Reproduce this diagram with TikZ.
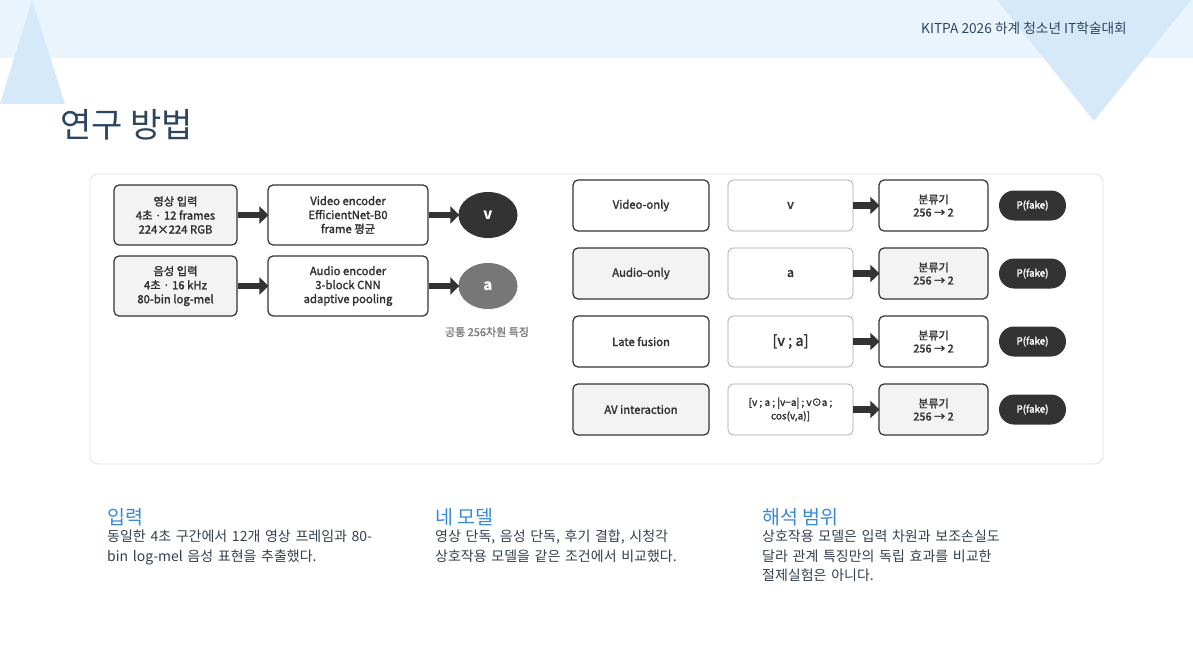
\documentclass[tikz,border=0pt]{standalone}
\usepackage{fontspec}
\setmainfont{Noto Sans CJK KR}
\setsansfont{Noto Sans CJK KR}
\newfontfamily\semibf[FakeBold=2]{Noto Sans CJK KR}
\usetikzlibrary{arrows.meta,shapes.geometric}
\definecolor{bandblue}{HTML}{EAF4FD}
\definecolor{triblue}{HTML}{D6E9F8}
\definecolor{titlecol}{HTML}{2E4560}
\definecolor{headblue}{HTML}{3B8AD9}
\definecolor{bodycol}{HTML}{34404E}
\definecolor{dk}{HTML}{333333}
\definecolor{lightfill}{HTML}{F3F3F3}
\definecolor{panelborder}{HTML}{E2E2E2}
\definecolor{midgray}{HTML}{777777}
\tikzset{
  box/.style={draw=dk, line width=1.2pt, rounded corners=5pt, align=center,
    font=\semibf\fontsize{11.3}{14}\selectfont, text=dk, inner sep=2pt},
  graybox/.style={box, fill=lightfill},
  whitebox/.style={box, fill=white},
  featbox/.style={draw=gray!70, line width=0.7pt, rounded corners=5pt, fill=white,
    align=center, font=\semibf\fontsize{12.5}{14}\selectfont, text=dk, inner sep=2pt},
  bigfeat/.style={font=\semibf\fontsize{14.5}{16}\selectfont},
  smallfeat/.style={font=\semibf\fontsize{10}{13.5}\selectfont},
  normfeat/.style={},
  blockarrow/.style={draw=dk, line width=6.5pt, -{Triangle[length=9pt,width=17pt]}, shorten >=-1pt},
  pill/.style={fill=dk, rounded corners=15pt, text=white, font=\semibf\fontsize{9.8}{11}\selectfont,
    minimum width=67pt, minimum height=30pt, inner sep=0pt},
  heading/.style={anchor=base west, text=headblue, font=\fontsize{19.5}{22}\selectfont, inner sep=0pt},
  bodytext/.style={anchor=north west, text=bodycol, align=left, font=\fontsize{14}{19.5}\selectfont, inner sep=0pt},
}
\begin{document}
\begin{tikzpicture}[x=1pt,y=-1pt]
\useasboundingbox (0,0) rectangle (1193,666);
\fill[white] (0,0) rectangle (1193,666);
% header band and triangles
\fill[bandblue] (0,0) rectangle (1193,58);
\fill[triblue] (0,104) -- (32,0) -- (65,104) -- cycle;
\fill[triblue] (997,0) -- (1191,0) -- (1094,121) -- cycle;
\node[anchor=east, text=titlecol, font=\fontsize{13.7}{15}\selectfont, inner sep=0pt] (hdr) at (1127,28) {KITPA 2026 하계 청소년 IT학술대회};
\node[anchor=west, text=titlecol, font=\fontsize{34}{36}\selectfont, inner sep=0pt] (title) at (60,125) {연구 방법};
% panel
\draw[panelborder, line width=0.8pt, rounded corners=8pt, fill=white] (90,174) rectangle (1103,464);
% left side
\node[graybox, minimum width=123pt, minimum height=60pt] (vin) at (175.5,215) {영상 입력\\4초 · 12 frames\\224×224 RGB};
\node[whitebox, minimum width=160pt, minimum height=60pt] (venc) at (348,215) {Video encoder\\EfficientNet-B0\\frame 평균};
\node[ellipse, fill=dk, minimum width=59pt, minimum height=46pt, text=white, font=\fontsize{15}{16}\selectfont\bfseries] (v) at (488,215) {v};
\node[graybox, minimum width=123pt, minimum height=60pt] (ain) at (175.5,286) {음성 입력\\4초 · 16 kHz\\80-bin log-mel};
\node[whitebox, minimum width=160pt, minimum height=60pt] (aenc) at (348,286) {Audio encoder\\3-block CNN\\adaptive pooling};
\node[ellipse, fill=midgray, minimum width=59pt, minimum height=46pt, text=white, font=\fontsize{15}{16}\selectfont\bfseries] (a) at (488,286) {a};
\node[text=gray, font=\semibf\fontsize{11}{12}\selectfont, inner sep=0pt] (common) at (487,332) {공통 256차원 특징};
\draw[blockarrow] (vin) -- (venc);
\draw[blockarrow] (venc) -- (v);
\draw[blockarrow] (ain) -- (aenc);
\draw[blockarrow] (aenc) -- (a);
% right side
\foreach \i/\y/\name/\feat/\ff/\fs/\fb in {1/205.5/Video-only/v/normfeat/white/white,
  2/273.5/Audio-only/a/normfeat/lightfill/lightfill,
  3/341.5/Late fusion/{[v ; a]}/bigfeat/white/white,
  4/409.5/AV interaction/{[v ; a ; |v−a| ; v⊙a ;\\cos(v,a)]}/smallfeat/lightfill/lightfill} {
  \node[box, fill=\fs, minimum width=136pt, minimum height=51pt] (m\i) at (641,\y) {\name};
  \node[featbox, \ff, minimum width=125pt, minimum height=51pt] (f\i) at (790.5,\y) {\feat};
  \node[box, fill=\fb, minimum width=109pt, minimum height=51pt, font=\semibf\fontsize{11}{13}\selectfont] (c\i) at (933.5,\y) {분류기\\256 → 2};
  \node[pill] (p\i) at (1032.5,\y) {P(fake)};
  \draw[blockarrow] (f\i) -- (c\i);
}
% bottom text
\node[heading] (h1) at (107,524) {입력};
\node[bodytext, text width=300pt] (b1) at (107,530) {동일한 4초 구간에서 12개 영상 프레임과 80-\\bin log-mel 음성 표현을 추출했다.};
\node[heading] (h2) at (435,524) {네 모델};
\node[bodytext, text width=300pt] (b2) at (435,530) {영상 단독, 음성 단독, 후기 결합, 시청각\\상호작용 모델을 같은 조건에서 비교했다.};
\node[heading] (h3) at (762,524) {해석 범위};
\node[bodytext, text width=300pt] (b3) at (762,530) {상호작용 모델은 입력 차원과 보조손실도\\달라 관계 특징만의 독립 효과를 비교한\\절제실험은 아니다.};
\end{tikzpicture}
\end{document}
